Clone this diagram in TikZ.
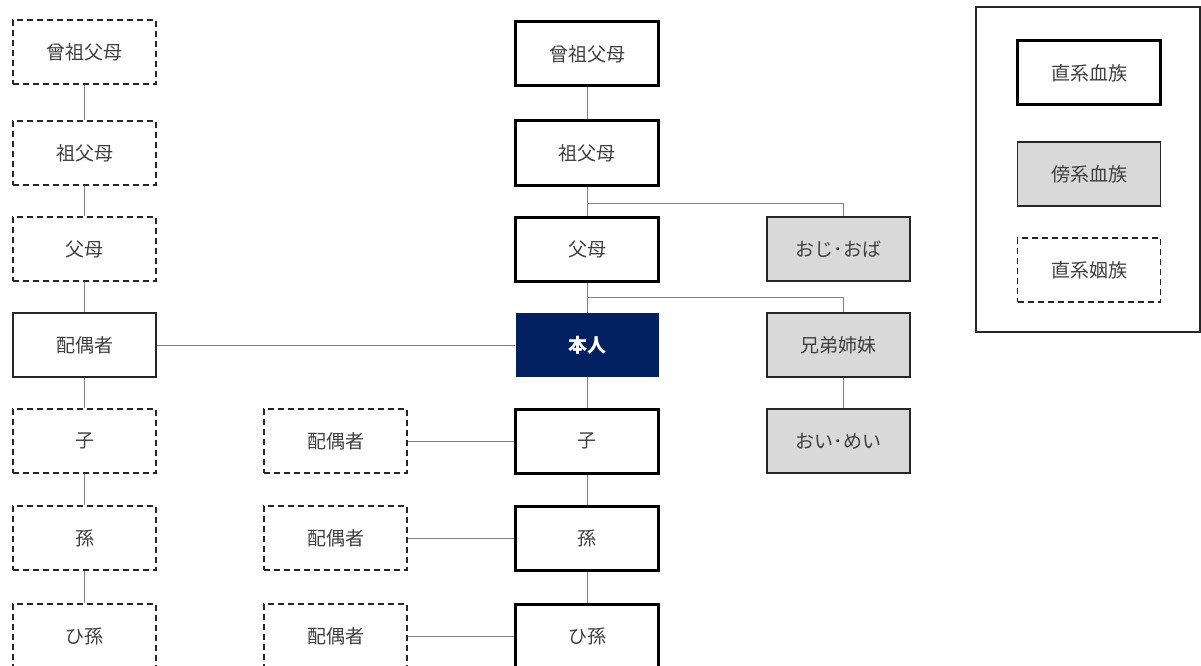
\documentclass[tikz,border=0pt]{standalone}
\usepackage{fontspec}
\setmainfont{Noto Sans CJK JP}
\usepackage{tikz}

\definecolor{navy}{HTML}{002060}
\definecolor{usuzumi}{HTML}{D9D9D9}
\definecolor{seniro}{HTML}{808080}
\definecolor{moji}{HTML}{3F3F3F}

\begin{document}
\begin{tikzpicture}[x=1pt,y=-1pt]
	\tikzstyle{every node}+=[minimum width=143pt,minimum height=64pt,inner sep=0pt,text=moji,font=\fontsize{19}{19}\selectfont]
	\tikzstyle{chokkei}=[draw=black,line width=3pt,fill=white]
	\tikzstyle{bokei}=[draw=black!85,line width=1.5pt,fill=usuzumi]
	\tikzstyle{inzoku}=[draw=black!85,line width=1.3pt,dash pattern=on 6pt off 4pt]
	\tikzstyle{haiguu}=[draw=black!85,line width=1.3pt]
	\tikzstyle{sen}=[draw=seniro,line width=1pt]
	\useasboundingbox (0,0) rectangle (1201,666);
	\clip (0,0) rectangle (1201,666);
	\node [inzoku] (lsoso) at (84.5,52) {曾祖父母};
	\node [inzoku] (lsofu) at (84.5,153) {祖父母};
	\node [inzoku] (lfubo) at (84.5,249) {父母};
	\node [haiguu] (lhaiguu) at (84.5,345) {配偶者};
	\node [inzoku] (lko) at (84.5,441) {子};
	\node [inzoku] (lmago) at (84.5,538) {孫};
	\node [inzoku] (lhimago) at (84.5,636) {ひ孫};
	\node [chokkei] (soso) at (587,54) {曾祖父母};
	\node [chokkei] (sofu) at (587,153) {祖父母};
	\node [chokkei] (fubo) at (587,249) {父母};
	\node [fill=navy,text=white,font=\fontsize{19}{19}\selectfont\bfseries] (honnin) at (587,345) {本人};
	\node [chokkei] (ko) at (587,441) {子};
	\node [chokkei] (mago) at (587,538) {孫};
	\node [chokkei] (himago) at (587,636) {ひ孫};
	\node [inzoku] (haiguu1) at (335.5,441) {配偶者};
	\node [inzoku] (haiguu2) at (335.5,538) {配偶者};
	\node [inzoku] (haiguu3) at (335.5,636) {配偶者};
	\node [bokei] (oji) at (838.5,249) {おじ･おば};
	\node [bokei] (kyodai) at (838.5,345) {兄弟姉妹};
	\node [bokei] (oi) at (838.5,441) {おい･めい};
	\draw [black!85,line width=1.3pt] (976,7) rectangle (1200,332);
	\node [chokkei] (hchokkei) at (1089,73) {直系血族};
	\node [bokei] (hbokei) at (1089,174) {傍系血族};
	\node [inzoku] (hinzoku) at (1089,270) {直系姻族};
	\draw [sen] (lsoso) -- (lsofu);
	\draw [sen] (lsofu) -- (lfubo);
	\draw [sen] (lfubo) -- (lhaiguu);
	\draw [sen] (lhaiguu) -- (lko);
	\draw [sen] (lko) -- (lmago);
	\draw [sen] (lmago) -- (lhimago);
	\draw [sen] (soso) -- (sofu);
	\draw [sen] (sofu) -- (fubo);
	\draw [sen] (fubo) -- (honnin);
	\draw [sen] (honnin) -- (ko);
	\draw [sen] (ko) -- (mago);
	\draw [sen] (mago) -- (himago);
	\draw [sen] (lhaiguu) -- (honnin);
	\draw [sen] (haiguu1) -- (ko);
	\draw [sen] (haiguu2) -- (mago);
	\draw [sen] (haiguu3) -- (himago);
	\coordinate (bunki1) at (587,203);
	\coordinate (bunki2) at (587,297);
	\draw [sen] (bunki1) -| ([xshift=5pt]oji.north);
	\draw [sen] (bunki2) -| ([xshift=5pt]kyodai.north);
	\draw [sen] ([xshift=5pt]kyodai.south) -- ([xshift=5pt]oi.north);
\end{tikzpicture}
\end{document}
